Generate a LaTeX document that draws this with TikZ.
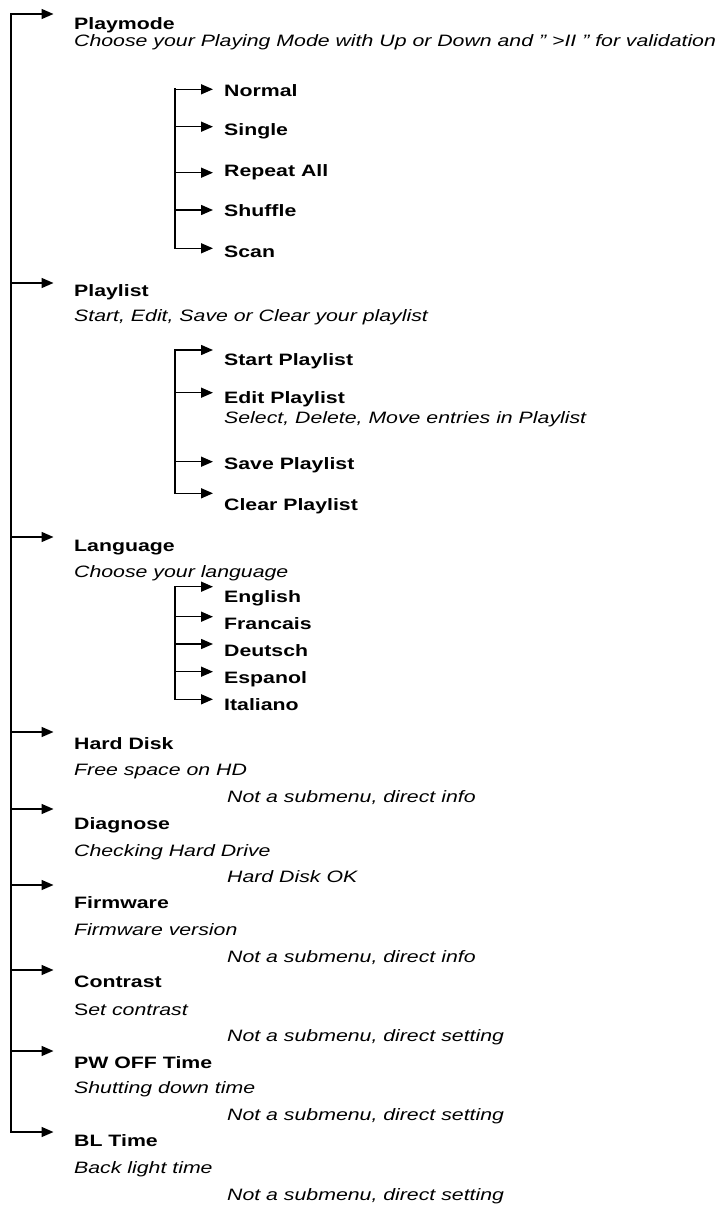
\documentclass[tikz,border=0pt]{standalone}
\usepackage{fontspec}
\setmainfont{Liberation Sans}[FakeStretch=1.29]
\usetikzlibrary{arrows.meta,positioning,calc}

\begin{document}
\begin{tikzpicture}[
    x=1pt, y=-1pt,
    every node/.style={inner sep=0pt, anchor=base west, font=\fontsize{16.5}{19}\selectfont},
    title/.style={font=\fontsize{16.5}{19}\selectfont\bfseries},
    desc/.style={font=\fontsize{16.5}{19}\selectfont\itshape},
    spine/.style={line width=1.8pt, line cap=rect},
    link/.style={-{Triangle[length=12pt,width=10pt]}, line width=1.5pt}
]
\useasboundingbox (0,0) rectangle (725,1206);

% main spine
\coordinate (main) at (11,0);
\coordinate (sub) at (175,0);

% main menu entries
\foreach \n/\t/\b/\a in {pm/Playmode/29.5/14, pl/Playlist/296.5/283, lg/Language/551.5/537,
    hd/Hard Disk/749/732, dg/Diagnose/829/809, fw/Firmware/908/885, ct/Contrast/987/970,
    pw/PW OFF Time/1068/1051, bl/BL Time/1146.5/1132} {
  \node[title] (\n) at (74,\b) {\t};
  \coordinate (\n-tip) at (53.5,\a);
  \draw[link] (\n-tip -| main) -- (\n-tip);
}
\draw[spine] (pm-tip -| main) -- (bl-tip -| main);

% descriptions
\node[desc] (pm-sub) at (74,47) {Choose your Playing Mode with Up or Down and " >II " for validation};
\node[desc] (pl-sub) at (74,321.5) {Start, Edit, Save or Clear your playlist};
\node[desc] (lg-sub) at (74,577) {Choose your language};
\node[desc] (hd-sub) at (74,775) {Free space on HD};
\node[desc] (dg-sub) at (74,856) {Checking Hard Drive};
\node[desc] (fw-sub) at (74,935) {Firmware version};
\node (ct-sub) at (74,1015) {S\textit{et contrast}};
\node[desc] (pw-sub) at (74,1093) {Shutting down time};
\node[desc] (bl-sub) at (74,1173) {Back light time};

% notes
\node[desc] (hd-note) at (227,802.5) {Not a submenu, direct info};
\node[desc] (dg-note) at (227,882) {Hard Disk OK};
\node[desc] (fw-note) at (227,962) {Not a submenu, direct info};
\node[desc] (ct-note) at (227,1041.5) {Not a submenu, direct setting};
\node[desc] (pw-note) at (227,1120) {Not a submenu, direct setting};
\node[desc] (bl-note) at (227,1200) {Not a submenu, direct setting};

% Playmode submenu
\foreach \n/\t/\b/\a in {nm/Normal/96.5/89.3, sg/Single/136/126.7, ra/Repeat All/177/172.7,
    sh/Shuffle/217/210, sc/Scan/257/248.3} {
  \node[title] (\n) at (224,\b) {\t};
  \coordinate (\n-tip) at (213,\a);
  \draw[link] (\n-tip -| sub) -- (\n-tip);
}
\draw[spine] (nm-tip -| sub) -- (sc-tip -| sub);

% Playlist submenu
\foreach \n/\t/\b/\a in {sp/Start Playlist/365/350, ep/Edit Playlist/403/392.7,
    vp/Save Playlist/469/461.7, cp/Clear Playlist/510/493.3} {
  \node[title] (\n) at (224,\b) {\t};
  \coordinate (\n-tip) at (213,\a);
  \draw[link] (\n-tip -| sub) -- (\n-tip);
}
\draw[spine] (sp-tip -| sub) -- (cp-tip -| sub);
\node[desc] (ep-sub) at (224,423) {Select, Delete, Move entries in Playlist};

% Language submenu
\foreach \n/\t/\b/\a in {en/English/602.5/586.7, fr/Francais/629/616.7, de/Deutsch/656.5/644,
    es/Espanol/683/671.7, it/Italiano/710/699.3} {
  \node[title] (\n) at (224,\b) {\t};
  \coordinate (\n-tip) at (213,\a);
  \draw[link] (\n-tip -| sub) -- (\n-tip);
}
\draw[spine] (en-tip -| sub) -- (it-tip -| sub);

\end{tikzpicture}
\end{document}
